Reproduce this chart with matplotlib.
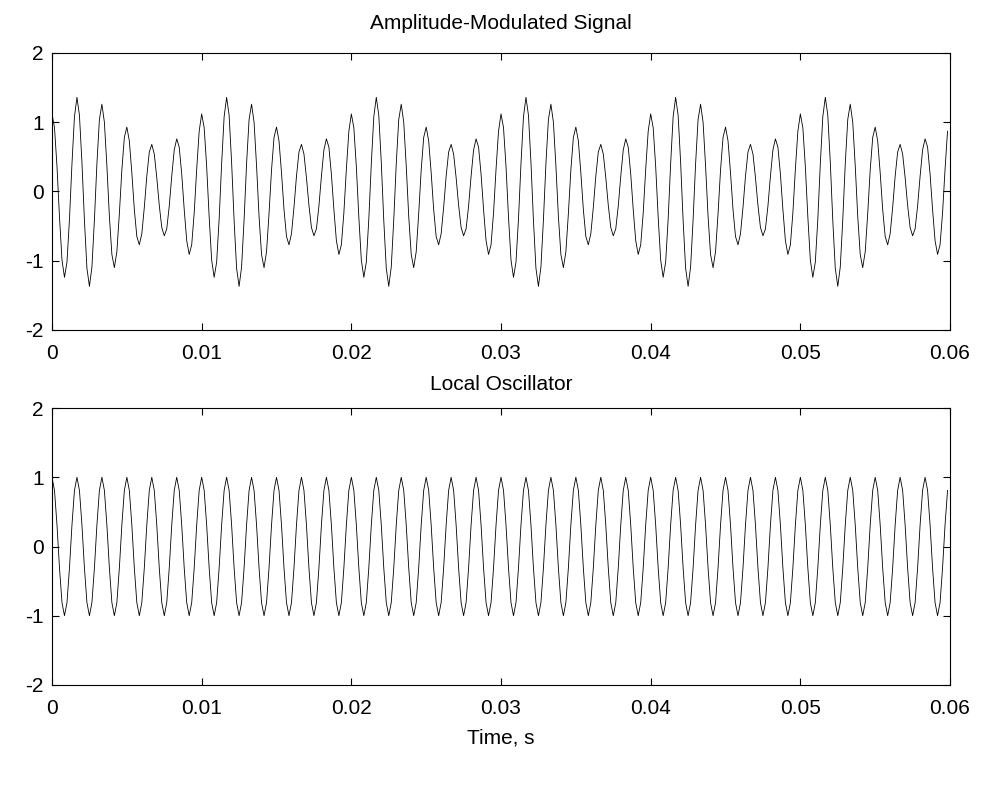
import numpy as np
import matplotlib
matplotlib.use('Agg')
import matplotlib.pyplot as plt

# 字体与负号设置（MATLAB风格）
plt.rcParams['font.family'] = ['Liberation Sans', 'DejaVu Sans']
plt.rcParams['axes.unicode_minus'] = False

# 采样率与重复次数
sample_rate = 6000
n_repeats = 6          # 调制包络周期数 (0.06 s 内)
n_lo_cycles = 36       # 本振周期数

# 调幅信号一个包络周期内的采样值 (6 个载波周期, 每周期 10 点)
am_period = [
    1.12, 0.92, 0.36, -0.37, -0.99, -1.24, -1.02, -0.40, 0.40, 1.08,
    1.36, 1.10, 0.42, -0.42, -1.11, -1.37, -1.09, -0.41, 0.40, 1.04,
    1.26, 1.00, 0.37, -0.36, -0.91, -1.10, -0.87, -0.32, 0.31, 0.78,
    0.93, 0.73, 0.27, -0.26, -0.65, -0.77, -0.61, -0.23, 0.22, 0.57,
    0.68, 0.54, 0.20, -0.20, -0.52, -0.64, -0.54, -0.21, 0.22, 0.60,
    0.76, 0.64, 0.25, -0.26, -0.71, -0.91, -0.77, -0.31, 0.32, 0.87,
]

# 本振一个周期的采样值
lo_cycle = [1.0, 0.81, 0.31, -0.31, -0.81, -1.0, -0.81, -0.31, 0.31, 0.81]

x_ticks = [0, 0.01, 0.02, 0.03, 0.04, 0.05, 0.06]
x_tick_labels = ['0', '0.01', '0.02', '0.03', '0.04', '0.05', '0.06']
y_ticks = [-2, -1, 0, 1, 2]

am_signal = np.tile(am_period, n_repeats)
lo_signal = np.tile(lo_cycle, n_lo_cycles)
t_am = np.arange(len(am_signal)) / sample_rate
t_lo = np.arange(len(lo_signal)) / sample_rate

fig = plt.figure(figsize=(9.85, 7.86), dpi=100)
ax1 = fig.add_axes([0.0528, 0.5802, 0.9117, 0.3524])
ax2 = fig.add_axes([0.0528, 0.1285, 0.9117, 0.3524])


def style_axes(ax, title, title_pad):
    ax.set_xlim(0, 0.06)
    ax.set_ylim(-2, 2)
    ax.set_xticks(x_ticks)
    ax.set_xticklabels(x_tick_labels)
    ax.set_yticks(y_ticks)
    ax.tick_params(direction='in', top=True, right=True, length=5,
                   width=0.8, labelsize=15, pad=6)
    ax.tick_params(axis='x', pad=10)
    for sp in ax.spines.values():
        sp.set_linewidth(0.8)
    ax.set_title(title, fontsize=15, pad=title_pad)


ax1.plot(t_am, am_signal, color='k', lw=0.6)
style_axes(ax1, 'Amplitude-Modulated Signal', 17)

ax2.plot(t_lo, lo_signal, color='k', lw=0.6)
style_axes(ax2, 'Local Oscillator', 13)
ax2.set_xlabel('Time, s', fontsize=15, labelpad=8)

fig.savefig('out.png', dpi=100)
